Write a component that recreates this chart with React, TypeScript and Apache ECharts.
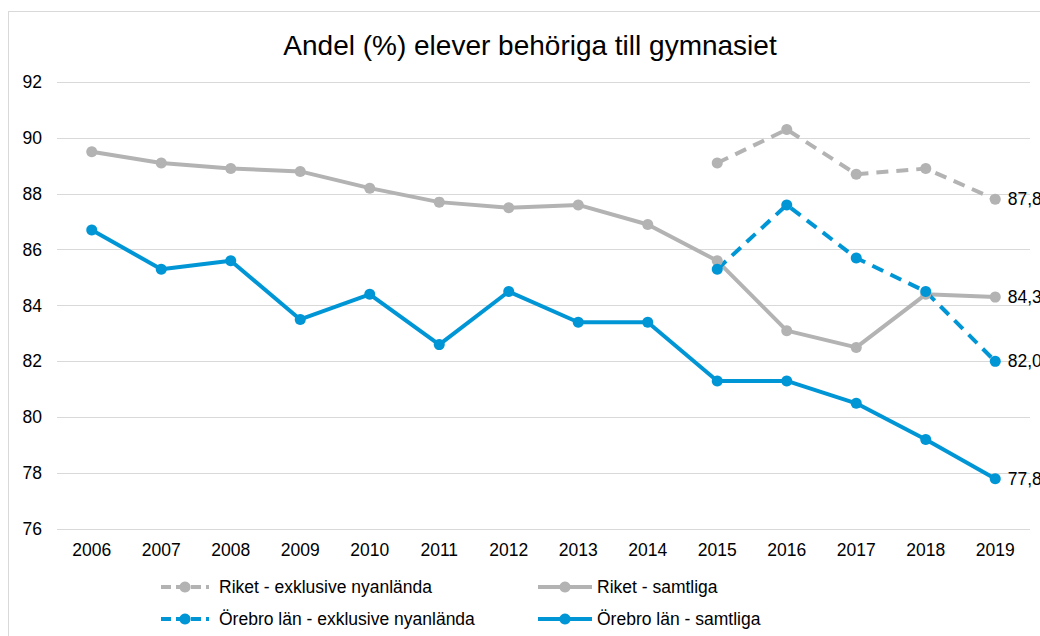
import React, { useEffect, useRef } from "react";
import * as echarts from "echarts";

const years = ["2006","2007","2008","2009","2010","2011","2012","2013","2014","2015","2016","2017","2018","2019"];
const riketExkl: (number | null)[] = [null,null,null,null,null,null,null,null,null,89.1,90.3,88.7,88.9,87.8];
const riketSamtliga: (number | null)[] = [89.5,89.1,88.9,88.8,88.2,87.7,87.5,87.6,86.9,85.6,83.1,82.5,84.4,84.3];
const orebroExkl: (number | null)[] = [null,null,null,null,null,null,null,null,null,85.3,87.6,85.7,84.5,82.0];
const orebroSamtliga: (number | null)[] = [86.7,85.3,85.6,83.5,84.4,82.6,84.5,83.4,83.4,81.3,81.3,80.5,79.2,77.8];
const seriesNames = [
  "Riket - exklusive nyanlända",
  "Riket - samtliga",
  "Örebro län - exklusive nyanlända",
  "Örebro län - samtliga",
];
const yTicks = { min: 76, max: 92, interval: 2 };

const GRAY = "#b3b3b3";
const BLUE = "#0096d6";
const FONT = "Liberation Sans, Arial, sans-serif";

function mkData(vals: (number | null)[]) {
  return vals.map((v, i) =>
    i === vals.length - 1 && v != null
      ? {
          value: v,
          label: {
            show: true,
            position: "right",
            distance: 7,
            fontSize: 17.5,
            fontFamily: FONT,
            color: "#000",
            formatter: (p: any) => Number(p.value).toFixed(1).replace(".", ","),
          },
        }
      : v
  );
}

function mkSeries(name: string, vals: (number | null)[], color: string, dashed: boolean) {
  return {
    name,
    type: "line",
    data: mkData(vals),
    symbol: "circle",
    symbolSize: 11,
    itemStyle: { color },
    lineStyle: { color, width: 4, type: dashed ? [12, 8] : "solid" },
    connectNulls: false,
  };
}

function mkLegend(name: string, left: number, top: number, itemWidth: number, gap: number, dashed: boolean) {
  return {
    data: [name],
    left,
    top,
    orient: "horizontal",
    padding: 0,
    itemWidth,
    itemHeight: 14,
    selectedMode: false,
    lineStyle: { width: 4, type: dashed ? [10, 5] : "solid" },
    textStyle: {
      fontSize: 17.5,
      fontFamily: FONT,
      color: "#000",
      lineHeight: 18,
      padding: [0, 0, 0, gap],
    },
  };
}

export default function App() {
  const ref = useRef<HTMLDivElement>(null);
  useEffect(() => {
    if (!ref.current) return;
    const chart = echarts.init(ref.current, null, { renderer: "svg" });
    chart.setOption({
      animation: false,
      backgroundColor: "#fff",
      title: {
        text: "Andel (%) elever behöriga till gymnasiet",
        left: 530,
        top: 31,
        padding: 0,
        textAlign: "center",
        textStyle: { fontSize: 28, fontWeight: "normal", fontFamily: FONT, color: "#000" },
      },
      graphic: [
        { type: "line", shape: { x1: 8.5, y1: 11, x2: 8.5, y2: 640 }, style: { stroke: "#d9d9d9", lineWidth: 1 } },
        { type: "line", shape: { x1: 8, y1: 11.5, x2: 1045, y2: 11.5 }, style: { stroke: "#d9d9d9", lineWidth: 1 } },
      ],
      legend: [
        mkLegend(seriesNames[0], 159, 578, 48, 5, true),
        mkLegend(seriesNames[1], 536, 578, 54, 0, false),
        mkLegend(seriesNames[2], 159, 610, 48, 5, true),
        mkLegend(seriesNames[3], 536, 610, 54, 0, false),
      ],
      grid: { left: 57, right: 10, top: 82, bottom: 107, containLabel: false },
      xAxis: {
        type: "category",
        data: years,
        boundaryGap: true,
        axisLine: { show: false },
        axisTick: { show: false },
        axisLabel: { fontSize: 17.5, fontFamily: FONT, color: "#000", margin: 12 },
      },
      yAxis: {
        type: "value",
        min: yTicks.min,
        max: yTicks.max,
        interval: yTicks.interval,
        axisLine: { show: false },
        axisTick: { show: false },
        axisLabel: { fontSize: 17.5, fontFamily: FONT, color: "#000", margin: 15 },
        splitLine: { lineStyle: { color: "#d9d9d9", width: 1 } },
      },
      series: [
        mkSeries(seriesNames[0], riketExkl, GRAY, true),
        mkSeries(seriesNames[1], riketSamtliga, GRAY, false),
        mkSeries(seriesNames[2], orebroExkl, BLUE, true),
        mkSeries(seriesNames[3], orebroSamtliga, BLUE, false),
      ],
    });
    return () => chart.dispose();
  }, []);
  return (
    <div
      ref={ref}
      style={{ position: "fixed", left: 0, top: 0, width: 1040, height: 636 }}
    />
  );
}
